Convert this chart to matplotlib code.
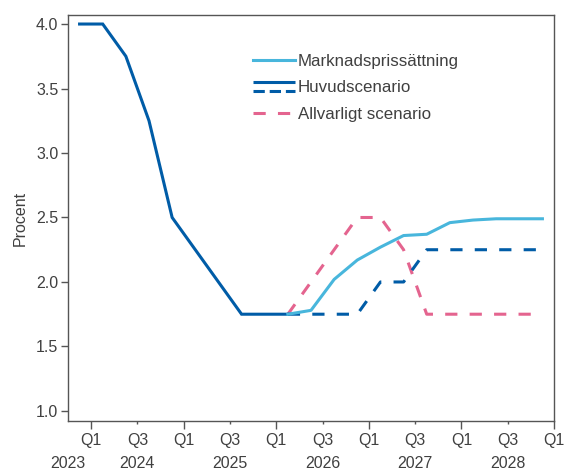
import matplotlib
matplotlib.use("Agg")
import matplotlib.pyplot as plt
from matplotlib.lines import Line2D
from matplotlib.legend_handler import HandlerBase
import matplotlib.transforms as mtransforms

plt.rcParams['font.family'] = ['Liberation Sans', 'DejaVu Sans']

# quarters as (year, quarter)
hist_q = [(2023, 4), (2024, 1), (2024, 2), (2024, 3), (2024, 4),
          (2025, 1), (2025, 2), (2025, 3), (2025, 4), (2026, 1)]
hist_vals = [4.0, 4.0, 3.75, 3.25, 2.5, 2.25, 2.0, 1.75, 1.75, 1.75]

fc_q = [(2026, 1), (2026, 2), (2026, 3), (2026, 4),
        (2027, 1), (2027, 2), (2027, 3), (2027, 4),
        (2028, 1), (2028, 2), (2028, 3), (2028, 4)]
market_vals = [1.75, 1.78, 2.02, 2.17, 2.27, 2.36, 2.37, 2.46, 2.48, 2.49, 2.49, 2.49]
main_vals = [1.75, 1.75, 1.75, 1.75, 2.0, 2.0, 2.25, 2.25, 2.25, 2.25, 2.25, 2.25]
severe_vals = [1.75, 2.0, 2.25, 2.5, 2.5, 2.25, 1.75, 1.75, 1.75, 1.75, 1.75, 1.75]

years = [2023, 2024, 2025, 2026, 2027, 2028]
labels = ['Marknadsprissättning', 'Huvudscenario', 'Allvarligt scenario']

dark_blue = '#005CA7'
light_blue = '#48B6DC'
pink = '#E4648F'
text_col = '#404040'
spine_col = '#555555'


def qpos(y, q):
    # plot each quarter at its midpoint
    return y + (q - 1) / 4 + 0.125


class TwoLineHandler(HandlerBase):
    def create_artists(self, legend, orig_handle, xdescent, ydescent,
                       width, height, fontsize, trans):
        solid, dashed = orig_handle
        y = height / 2 - ydescent
        l1 = Line2D([-xdescent, width - xdescent], [y + 3, y + 3],
                    color=solid.get_color(), lw=solid.get_linewidth(),
                    linestyle='-', solid_capstyle='butt')
        l2 = Line2D([-xdescent, width - xdescent], [y - 3, y - 3],
                    color=dashed.get_color(), lw=dashed.get_linewidth(),
                    linestyle=dashed.get_linestyle(), dash_capstyle='butt')
        l1.set_transform(trans)
        l2.set_transform(trans)
        return [l1, l2]


fig = plt.figure(figsize=(5.65, 4.72), dpi=100)
ax = fig.add_axes([68 / 565, 1 - 421 / 472, (554 - 68) / 565, (421 - 15) / 472])

lw = 2.2
dash = (0, (4, 4))
hx = [qpos(*q) for q in hist_q]
fx = [qpos(*q) for q in fc_q]

ax.plot(fx, severe_vals, color=pink, lw=lw, linestyle=dash, dash_capstyle='butt')
ax.plot(fx, main_vals, color=dark_blue, lw=lw, linestyle=dash, dash_capstyle='butt')
ax.plot(hx, hist_vals, color=dark_blue, lw=lw, solid_joinstyle='miter')
ax.plot(fx, market_vals, color=light_blue, lw=lw)

ax.set_xlim(2023.75, 2029.0)
ax.set_ylim(0.922, 4.07)
ax.set_yticks([1.0, 1.5, 2.0, 2.5, 3.0, 3.5, 4.0])
ax.set_yticklabels(['%.1f' % v for v in [1.0, 1.5, 2.0, 2.5, 3.0, 3.5, 4.0]])

ax.set_xticks([y for y in range(2024, 2030)])
ax.set_xticklabels(['Q1'] * 6)
ax.set_xticks([y + 0.5 for y in range(2024, 2029)], minor=True)
ax.set_xticklabels(['Q3'] * 5, minor=True)

ax.tick_params(axis='both', which='both', labelsize=11.5, labelcolor=text_col,
               color=spine_col, width=1, direction='out')
ax.tick_params(axis='x', which='major', length=6, pad=3)
ax.tick_params(axis='x', which='minor', length=2.5, pad=6.5)
ax.tick_params(axis='y', length=5, pad=2)

for s in ax.spines.values():
    s.set_color(spine_col)
    s.set_linewidth(1)

ax.set_ylabel('Procent', fontsize=11.5, color=text_col, labelpad=6)

trans = mtransforms.blended_transform_factory(ax.transData, ax.transAxes)
for yr in years:
    xpos = max(yr + 0.5, 2023.75)
    ax.text(xpos, -0.105, str(yr), transform=trans, ha='center', va='center',
            fontsize=11.5, color=text_col)

h_market = Line2D([], [], color=light_blue, lw=lw)
h_main = (Line2D([], [], color=dark_blue, lw=lw),
          Line2D([], [], color=dark_blue, lw=lw, linestyle=dash))
h_severe = Line2D([], [], color=pink, lw=lw, linestyle=dash)

leg = ax.legend([h_market, h_main, h_severe], labels,
                handler_map={tuple: TwoLineHandler()},
                loc='upper left', bbox_to_anchor=(0.381, 0.905),
                frameon=False, fontsize=12.2, handlelength=2.45,
                handletextpad=0.2, labelspacing=0.7, borderaxespad=0,
                borderpad=0)
for t in leg.get_texts():
    t.set_color(text_col)

fig.savefig('out.png', dpi=100)
